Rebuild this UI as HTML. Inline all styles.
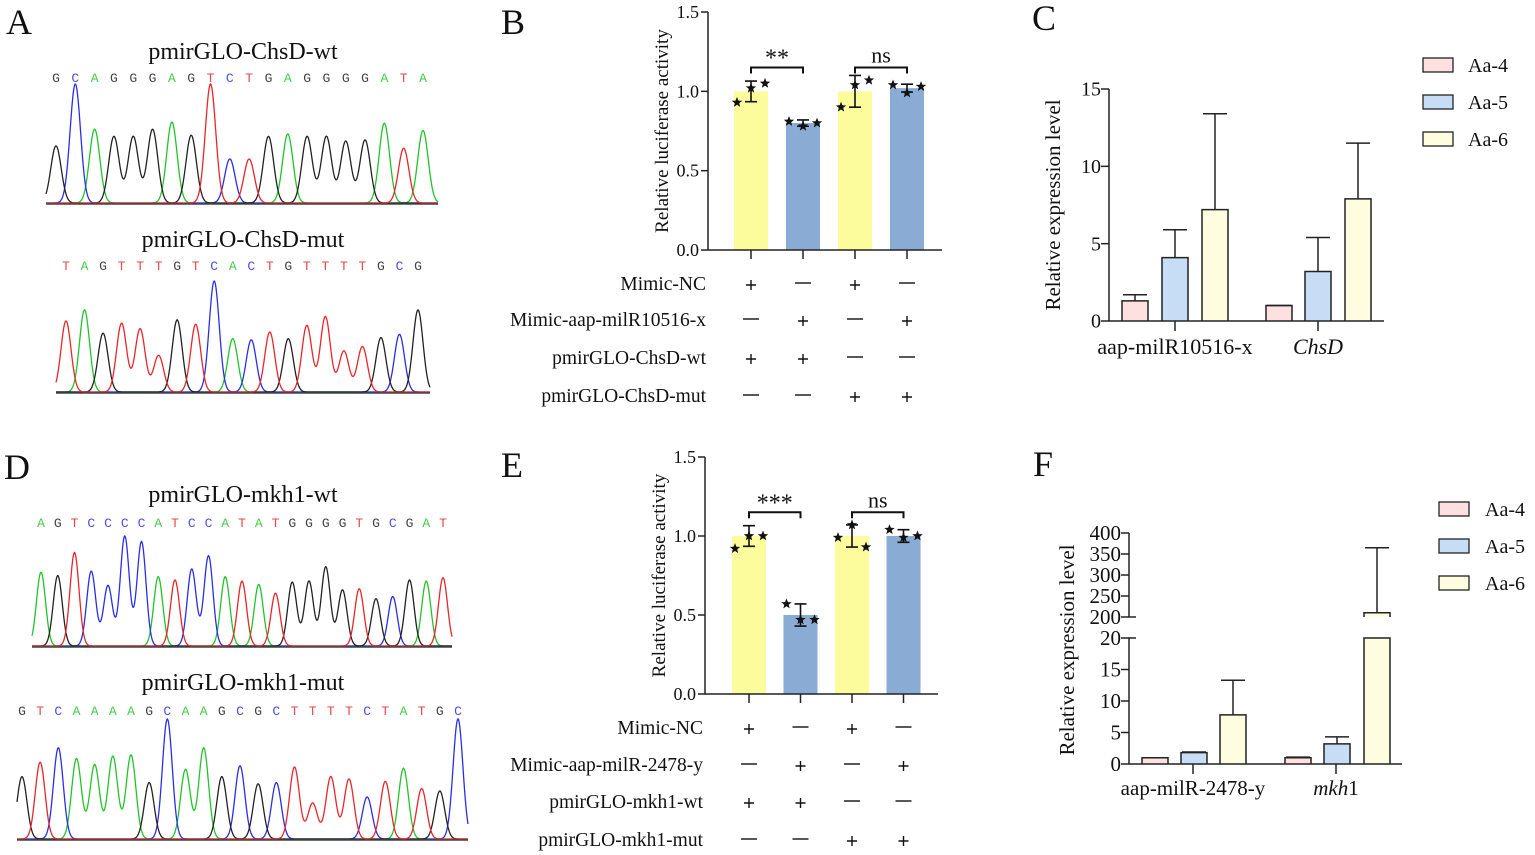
<!DOCTYPE html>
<html><head><meta charset="utf-8"><style>
html,body{margin:0;padding:0;background:#fff;}
svg{display:block;font-family:"Liberation Serif",serif;}
</style></head><body>
<svg id="fig" width="1535" height="855" viewBox="0 0 1535 855" xmlns="http://www.w3.org/2000/svg"></svg>
<script>
// ---------- DATA ----------
const seqA1 = "GCAGGGAGTCTGAGGGGATA";
const hA1 = [0.48,1,0.62,0.56,0.56,0.62,0.68,0.57,1,0.37,0.37,0.56,0.58,0.56,0.56,0.52,0.53,0.67,0.46,0.61];
const seqA2 = "TAGTTTGTCACTGTTTTGCG";
const hA2 = [0.64,0.74,0.53,0.62,0.57,0.33,0.65,0.61,1,0.48,0.47,0.54,0.48,0.6,0.68,0.37,0.41,0.49,0.52,0.74];
const seqD1 = "AGTCCCCATCCATATGGGGTGCGAT";
const hD1 = [0.67,0.64,0.85,0.68,0.55,1,0.95,0.63,0.6,0.7,0.82,0.63,0.59,0.56,0.48,0.58,0.59,0.72,0.51,0.52,0.43,0.45,0.6,0.59,0.62];
const seqD2 = "GTCAAAAGCAAGCGCTTTTCTATGC";
const hD2 = [0.52,0.64,0.76,0.67,0.62,0.69,0.7,0.47,1,0.58,0.76,0.52,0.61,0.46,0.47,0.6,0.3,0.52,0.5,0.35,0.48,0.59,0.42,0.4,1];

const lucTicks = [0.0,0.5,1.0,1.5];
const bMeans = [1.0,0.80,1.0,1.02];
const bSD = [0.065,0.02,0.10,0.025];
const bPts = [[1.02,0.93,1.05],[0.78,0.81,0.80],[1.04,0.90,1.07],[0.99,1.04,1.03]];
const eMeans = [1.0,0.50,1.0,1.0];
const eSD = [0.065,0.07,0.07,0.04];
const ePts = [[1.0,0.92,1.0],[0.47,0.57,0.47],[1.07,0.99,0.93],[0.99,1.04,1.0]];
const bRows = ["Mimic-NC","Mimic-aap-milR10516-x","pmirGLO-ChsD-wt","pmirGLO-ChsD-mut"];
const eRows = ["Mimic-NC","Mimic-aap-milR-2478-y","pmirGLO-mkh1-wt","pmirGLO-mkh1-mut"];
const signs = [["+","-","+","-"],["-","+","-","+"],["+","+","-","-"],["-","-","+","+"]];

const groups = ["Aa-4","Aa-5","Aa-6"];
const cCats = ["aap-milR10516-x","ChsD"];
const cMeans = [[1.3,4.1,7.2],[1.0,3.2,7.9]];
const cErr = [[1.7,5.9,13.4],[1.0,5.4,11.5]];
const cTicks = [0,5,10,15];
const fCats = ["aap-milR-2478-y","mkh1"];
const fMeans = [[1.0,1.8,7.8],[1.0,3.2,210]];
const fErr = [[1.0,1.9,13.3],[1.1,4.3,365]];
const fTicksLow = [0,5,10,15,20];
const fTicksHigh = [200,250,300,350,400];

// ---------- HELPERS ----------
const svg = document.getElementById('fig');
const NS = "http://www.w3.org/2000/svg";
function el(tag, attrs, parent){
  const e = document.createElementNS(NS, tag);
  for (const k in attrs) e.setAttribute(k, attrs[k]);
  (parent||svg).appendChild(e);
  return e;
}
function txt(x,y,s,size,anchor,extra,parent){
  const t = el('text',Object.assign({x:x,y:y,'font-size':size,'text-anchor':anchor||'start',fill:'#111'},extra||{}),parent);
  t.textContent = s;
  return t;
}
const baseColor = {A:'#22c42a',C:'#2a2ee6',G:'#222',T:'#e8262a'};

function panelLabel(s,x,y){
  const t = txt(x,y,s,36,'start');
  
  
}

function chromatogram(name, title, tx, ty, seq, hts, x0, x1, lx0, lx1, ly, base, top){
  const g = el('g',{});
  
  
  const tt = txt(tx,ty,title,24,'middle',{},g);
  
  
  const n = seq.length;
  const step = (lx1-lx0)/(n-1);
  for (let i=0;i<n;i++){
    const t = txt(lx0+i*step, ly, seq[i], 13, 'middle', {fill:baseColor[seq[i]], 'font-family':'"Liberation Mono",monospace','opacity':0.85}, g);
    
    
  }
  const sig = step*0.27;
  const H = base-top;
  ['A','C','G','T'].forEach(b=>{
    let d = '';
    for (let x=x0;x<=x1;x+=0.5){
      let v = 0;
      for (let i=0;i<n;i++){
        if (seq[i]!==b) continue;
        const c = lx0+i*step;
        v += hts[i]*Math.exp(-((x-c)*(x-c))/(2*sig*sig));
      }
      const y = base - 1 - v*H;
      d += (d?'L':'M')+x.toFixed(1)+','+y.toFixed(1);
    }
    const p = el('path',{d:d,fill:'none',stroke:baseColor[b],'stroke-width':1.3},g);
    
    
  });
  const bl = el('line',{x1:x0,x2:x1,y1:base,y2:base,stroke:'#444','stroke-width':1.5},g);
  
  
}

function star(cx,cy,r,parent){
  let d='';
  for(let i=0;i<10;i++){
    const a = -Math.PI/2 + i*Math.PI/5;
    const rr = i%2? r*0.42 : r;
    d += (i?'L':'M')+(cx+rr*Math.cos(a)).toFixed(1)+','+(cy+rr*Math.sin(a)).toFixed(1);
  }
  const s = el('path',{d:d+'Z',fill:'#111'},parent);
  
  
}

function lucChart(name, ax, y0, y1, xEnd, barL, bw, gap, means, sds, pts, rows, rowY, sig1, sig2){
  const g = el('g',{});
  
  
  const yS = v => y0 - (v/1.5)*(y0-y1);
  const cx = i => barL + i*gap + bw/2;
  const cols = ['#fdfc9c','#8aabd4','#fdfc9c','#8aabd4'];
  means.forEach((m,i)=>{
    const r = el('rect',{x:cx(i)-bw/2,y:yS(m),width:bw,height:y0-yS(m),fill:cols[i]},g);
    
    
  });
  means.forEach((m,i)=>{
    const c = cx(i);
    const e = el('path',{d:`M${c},${yS(m-sds[i])}V${yS(m+sds[i])}M${c-6},${yS(m+sds[i])}H${c+6}M${c-6},${yS(m-sds[i])}H${c+6}`,stroke:'#111','stroke-width':1.6,fill:'none'},g);
    
    
    pts[i].forEach((v,j)=>{
      star(c + [0,-14,14][j], yS(v), 5.5, g);
    });
  });
  const ya = el('line',{x1:ax,x2:ax,y1:y1,y2:y0,stroke:'#222','stroke-width':1.5},g);
   
  const xa = el('line',{x1:ax,x2:xEnd,y1:y0,y2:y0,stroke:'#222','stroke-width':1.5},g);
   
  lucTicks.forEach(t=>{
    el('line',{x1:ax-7,x2:ax,y1:yS(t),y2:yS(t),stroke:'#222','stroke-width':1.5},g);
    const tl = txt(ax-9,yS(t)+6,t.toFixed(1),18,'end',{},g);
     
  });
  means.forEach((m,i)=>{ el('line',{x1:cx(i),x2:cx(i),y1:y0,y2:y0+9,stroke:'#222','stroke-width':1.5},g); });
  const yt = txt(0,0,'Relative luciferase activity',19,'middle',{transform:`translate(${ax-40},${(y0+y1)/2}) rotate(-90)`},g);
   
  [[0,1,sig1],[2,3,sig2]].forEach(([a,b,s])=>{
    const yb = yS(1.15);
    el('path',{d:`M${cx(a)},${yb+6}V${yb}H${cx(b)}V${yb+6}`,stroke:'#111','stroke-width':2,fill:'none'},g);
    const st = txt((cx(a)+cx(b))/2, s==='ns'? yb-5 : yb-2, s, s==='ns'?22:24, 'middle',{},g);
     
  });
  rows.forEach((r,ri)=>{
    const rl = txt(ax-2, rowY[ri]+6, r, 19.5, 'end', {}, g);
     
    signs[ri].forEach((s,i)=>{
      const c = cx(i);
      if (s==='+') el('path',{d:`M${c-5},${rowY[ri]+1}H${c+5}M${c},${rowY[ri]-4}V${rowY[ri]+6}`,stroke:'#111','stroke-width':1.4},g);
      else el('line',{x1:c-8,x2:c+8,y1:rowY[ri]-1,y2:rowY[ri]-1,stroke:'#111','stroke-width':1.4},g);
    });
  });
}

const grpFill = ['#fde0df','#c7ddf6','#fefde0'];
function legend(name,x,y0,dy,tx){
  const g = el('g',{});
  
  
  groups.forEach((s,i)=>{
    const r = el('rect',{x:x,y:y0+i*dy-7,width:30,height:14,fill:grpFill[i],stroke:'#222','stroke-width':1.3},g);
    
    
    const t = txt(tx,y0+i*dy+7,s,20,'start',{},g);
    
    
  });
}

function exprChart(name, ax, xEnd, y0, cats, means, errs, barX, bw, catX, catY, yS, ticks, tickSize, catSize, titleSize, yTitleX, yTitleY, italicIdx){
  const g = el('g',{});
  
  
  means.forEach((grp,ci)=>{
    grp.forEach((m,gi)=>{
      const x = barX[ci][gi];
      const segs = yS.bar(m);
      segs.forEach(([ya,yb])=>{
        const r = el('path',{d:`M${x},${ya}V${yb}H${x+bw}V${ya}`,fill:grpFill[gi],stroke:'#222','stroke-width':1.5},g);
        
        
      });
      const c = x+bw/2, ytop = yS.y(m), ye = yS.y(errs[ci][gi]);
      const e = el('path',{d:`M${c},${ytop}V${ye}M${c-12},${ye}H${c+12}`,stroke:'#222','stroke-width':1.5,fill:'none'},g);
       
    });
  });
  yS.axis(g);
  const xa = el('line',{x1:ax,x2:xEnd,y1:y0,y2:y0,stroke:'#222','stroke-width':1.5},g);
   
  ticks.forEach(t=>{
    el('line',{x1:ax-8,x2:ax,y1:yS.y(t),y2:yS.y(t),stroke:'#222','stroke-width':1.5},g);
    const tl = txt(ax-8,yS.y(t)+tickSize*0.33,String(t),tickSize,'end',{},g);
     
  });
  cats.forEach((c,i)=>{
    el('line',{x1:catX[i],x2:catX[i],y1:y0,y2:y0+10,stroke:'#222','stroke-width':1.5},g);
    let t;
    if (c==='mkh1'){
      t = txt(catX[i],catY,'',catSize,'middle',{},g);
      const a = el('tspan',{'font-style':'italic'},t); a.textContent='mkh';
      const b = el('tspan',{},t); b.textContent='1';
    } else t = txt(catX[i],catY,c,catSize,'middle', i===italicIdx?{'font-style':'italic'}:{},g);
     
  });
  const yt = txt(0,0,'Relative expression level',titleSize,'middle',{transform:`translate(${yTitleX},${yTitleY}) rotate(-90)`},g);
   
}

// ---------- PANEL A / D ----------
panelLabel('A',6,34);
chromatogram('chromatogram-chsd-wt','pmirGLO-ChsD-wt',243,59,seqA1,hA1,46,438,56,423,82,204,85);
chromatogram('chromatogram-chsd-mut','pmirGLO-ChsD-mut',243,247,seqA2,hA2,56,430,66,418,270,393,282);
panelLabel('D',4,479);
chromatogram('chromatogram-mkh1-wt','pmirGLO-mkh1-wt',243,502,seqD1,hD1,32,452,41,443,527,647,537);
chromatogram('chromatogram-mkh1-mut','pmirGLO-mkh1-mut',243,690,seqD2,hD2,17,468,22,458,715,840,720);

// ---------- PANEL B / E ----------
panelLabel('B',501,34);
lucChart('luciferase-chart-b',708,250,12,942,734,34,52,bMeans,bSD,bPts,bRows,[284,320,358,396],'**','ns');
panelLabel('E',501,477);
lucChart('luciferase-chart-e',705,694,457,938,732,34,51.5,eMeans,eSD,ePts,eRows,[728,765,802,840],'***','ns');

// ---------- PANEL C ----------
panelLabel('C',1032,30);
const cY0=321, cY1=89;
const cScale = {
  y: v => cY0 - v/15*(cY0-cY1),
  bar: v => [[cY0, cY0 - v/15*(cY0-cY1)]],
  axis: g => { const a=el('line',{x1:1109,x2:1109,y1:cY1,y2:cY0,stroke:'#222','stroke-width':1.5},g);   }
};
exprChart('expression-chart-c',1109,1384,cY0,cCats,cMeans,cErr,[[1122,1162,1202],[1266,1305,1345]],26,[1175,1318],354,cScale,cTicks,20,22,21,1060,205,1);
legend('legend-c',1423,65,37,1468);

// ---------- PANEL F ----------
panelLabel('F',1033,476);
const fY0=764, fY20=638, fY200=617, fY400=533;
const fy = v => v<=20 ? fY0 - v/20*(fY0-fY20) : fY200 - (v-200)/200*(fY200-fY400);
const fScale = {
  y: fy,
  bar: v => v<=20 ? [[fY0, fy(v)]] : [[fY0, fY20],[fY200, fy(v)]],
  axis: g => {
    const a=el('path',{d:`M1129,${fY0}V${fY20}H1136M1129,${fY200}V${fY400}`,stroke:'#222','stroke-width':1.5,fill:'none'},g);
     
    el('line',{x1:1129,x2:1136,y1:fY200,y2:fY200,stroke:'#222','stroke-width':1.5},g);
  }
};
exprChart('expression-chart-f',1129,1402,fY0,fCats,fMeans,fErr,[[1142,1181,1220],[1285,1324,1364]],26,[1193,1336],795,fScale,fTicksLow.concat(fTicksHigh),21,21,21,1074,650,1);
legend('legend-f',1439,509,37,1485);
</script>
</body></html>
